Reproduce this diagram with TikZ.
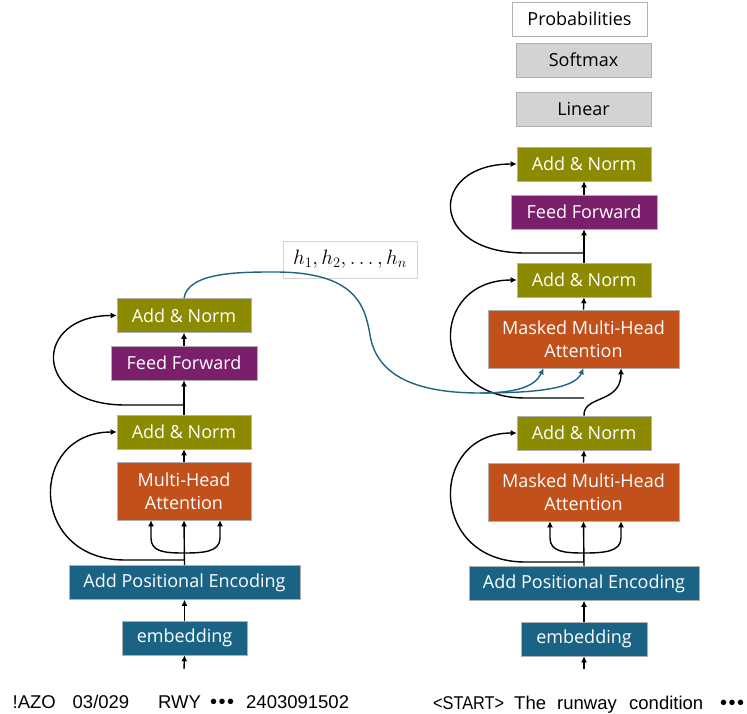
\documentclass[tikz,border=0pt]{standalone}
\usepackage{fontspec}
\setmainfont{Open Sans}
\newfontfamily\txtfont{Liberation Sans}
\usetikzlibrary{calc,arrows.meta}
\definecolor{cOlive}{HTML}{8C8A00}
\definecolor{cPurple}{HTML}{7A1F6C}
\definecolor{cOrange}{HTML}{C1501A}
\definecolor{cTeal}{HTML}{1B6385}
\definecolor{cGray}{HTML}{D3D3D3}
\definecolor{cBorder}{HTML}{B0B0B0}
\definecolor{cBlue}{HTML}{1F6283}
\newcommand{\dotsthree}{{\fontsize{20}{20}\selectfont •\kern1.5pt•\kern1.5pt•}}
\tikzset{
  blk/.style={rectangle, draw=cBorder, line width=0.6pt, inner sep=0pt, text=white,
    align=center, font=\fontsize{18}{23.5}\selectfont},
  andn/.style={blk, fill=cOlive, minimum width=134pt, minimum height=34pt},
  ffn/.style={blk, fill=cPurple, minimum width=146pt, minimum height=34pt},
  attn/.style={blk, fill=cOrange, minimum height=58pt},
  tealbox/.style={blk, fill=cTeal, minimum height=34pt},
  graybox/.style={blk, fill=cGray, text=black, minimum width=135pt, minimum height=34pt},
  whitebox/.style={blk, fill=white, text=black, minimum width=135pt, minimum height=34pt},
  arr/.style={-{Latex[length=6pt,width=6pt]}, line width=1.4pt},
  twoarr/.style={{Latex[length=6pt,width=6pt]}-{Latex[length=6pt,width=6pt]}, line width=1.4pt},
  bluearr/.style={-{Latex[length=6pt,width=6pt]}, line width=1.4pt, draw=cBlue, color=cBlue},
  plain/.style={line width=1.4pt},
  word/.style={anchor=base west, inner sep=0pt, font=\txtfont\fontsize{18.5}{20}\selectfont}
}
\begin{document}
\begin{tikzpicture}[x=1pt,y=-1pt]
\useasboundingbox (0,0) rectangle (747,714);

% ---------- left (encoder) ----------
\node[tealbox, minimum width=125pt] (lemb) at (184.5,638) {embedding};
\node[tealbox, minimum width=231pt] (lpe) at (184.5,582.5) {Add Positional Encoding};
\node[attn, minimum width=134pt] (lmha) at (184,491) {Multi-Head\\Attention};
\node[andn] (lan1) at (184,432) {Add \& Norm};
\node[ffn] (lff) at (184,363) {Feed Forward};
\node[andn] (lan2) at (184,315.5) {Add \& Norm};

\coordinate (lin0) at (184,669);
\draw[arr] (lin0) -- (lemb.south);
\draw[arr] (lemb.north) -- (lpe.south);
\draw[arr] (lpe.north) -- (lmha.south);
\draw[twoarr] ($(lmha.south)+(-33,0)$) -- (151,538) .. controls (151,552) and (165,553) .. (184,553)
   .. controls (203,553) and (220,552) .. (220,538) -- ($(lmha.south)+(36,0)$);
\draw[arr] (184,560) -- (125,560) .. controls (28,560) and (28,432) .. (lan1.west);
\draw[arr] (lmha.north) -- (lan1.south);
\draw[arr] (lan1.north) -- (lff.south);
\draw[arr] (184,405) -- (125,405) .. controls (32,405) and (32,315.5) .. (lan2.west);
\draw[arr] (lff.north) -- (lan2.south);

% ---------- right (decoder) ----------
\node[tealbox, minimum width=126pt] (remb) at (584,639) {embedding};
\node[tealbox, minimum width=230pt] (rpe) at (584,583.5) {Add Positional Encoding};
\node[attn, minimum width=191pt] (rmha1) at (583.5,492) {Masked Multi-Head\\Attention};
\node[andn] (ran1) at (584,433) {Add \& Norm};
\node[attn, minimum width=191pt] (rmha2) at (583.5,339) {Masked Multi-Head\\Attention};
\node[andn] (ran2) at (584,280) {Add \& Norm};
\node[ffn] (rff) at (584,212) {Feed Forward};
\node[andn] (ran3) at (584,164) {Add \& Norm};
\node[graybox] (lin) at (583.5,109) {Linear};
\node[graybox] (soft) at (583.5,60) {Softmax};
\node[whitebox] (prob) at (579.5,19) {Probabilities};

\coordinate (rin0) at (584,669);
\draw[arr] (rin0) -- (remb.south);
\draw[arr] (remb.north) -- (rpe.south);
\draw[arr] (rpe.north) -- (rmha1.south);
\draw[twoarr] ($(rmha1.south)+(-33.5,0)$) -- (550,538) .. controls (550,552) and (565,553) .. (584,553)
   .. controls (603,553) and (621,552) .. (621,538) -- ($(rmha1.south)+(37.5,0)$);
\draw[arr] (584,562) -- (525,562) .. controls (428,562) and (428,433) .. (ran1.west);
\draw[arr] (rmha1.north) -- (ran1.south);
\draw[arr] (ran1.north) .. controls (583,395) and (621,404) .. ($(rmha2.south)+(37.5,0)$);
\draw[arr] (584,398) -- (525,398) .. controls (428,398) and (428,280) .. (ran2.west);
\draw[arr] (rmha2.north) -- (ran2.south);
\draw[arr] (ran2.north) -- (rff.south);
\draw[arr] (584,253) -- (525,253) .. controls (428,253) and (428,164) .. (ran3.west);
\draw[arr] (rff.north) -- (ran3.south);

% ---------- hidden states ----------
\node[rectangle, draw=cGray, line width=0.6pt, minimum width=134pt, minimum height=37pt, inner sep=0pt,
  font=\fontsize{21}{24}\selectfont] (hbox) at (350,259.5) {$h_1, h_2, \ldots, h_n$};
\coordinate (bj) at (480,393);
\draw[plain, cBlue] (lan2.north) .. controls (188,272) and (240,272) .. (275,272)
   .. controls (355,272) and (365,305) .. (370,335)
   .. controls (377,378) and (420,393) .. (bj);
\draw[bluearr] (bj) .. controls (515,393) and (535,387) .. ($(rmha2.south)+(-40,0)$);
\draw[bluearr] (bj) .. controls (540,393) and (575,388) .. (rmha2.south);

% ---------- input tokens ----------
\node[word] (w1) at (12.5,708) {!AZO};
\node[word] (w2) at (72.5,708) {03/029};
\node[word] (w3) at (158,708) {RWY};
\node[word] (w4) at (210,708) {\dotsthree};
\node[word] (w5) at (246,708) {2403091502};

\node[word] (v1) at (433,709) {\scalebox{0.88}[1]{<START>}};
\node[word] (v2) at (514,709) {The};
\node[word] (v3) at (557,709) {runway};
\node[word] (v4) at (629,709) {condition};
\node[word] (v5) at (720,709) {\dotsthree};
\end{tikzpicture}
\end{document}
